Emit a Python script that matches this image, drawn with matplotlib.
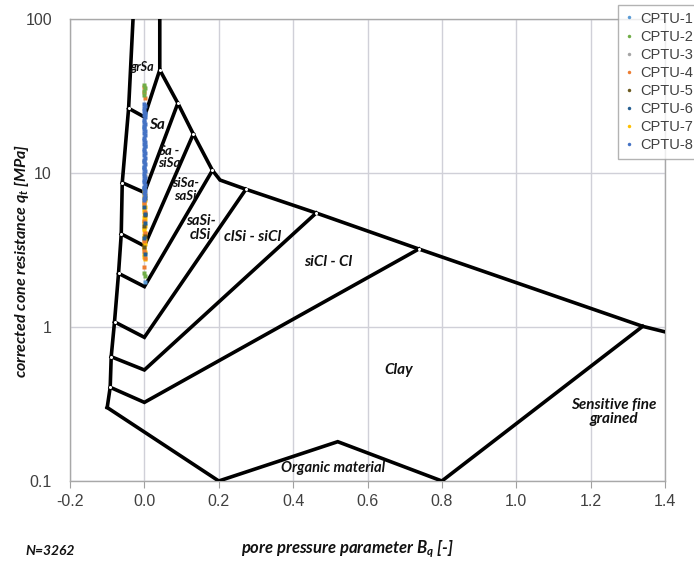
import matplotlib
matplotlib.use("Agg")
import matplotlib.pyplot as plt
from matplotlib.ticker import FixedLocator, NullLocator

plt.rcParams["mathtext.fontset"] = "custom"
plt.rcParams["mathtext.it"] = "Lato:italic:bold"
plt.rcParams["mathtext.rm"] = "Lato:italic:bold"

# --- Zone boundaries (Bq [-], qt [MPa]) ---
left_bq = [-0.0305, -0.0424, -0.0595, -0.0622, -0.0695, -0.0803, -0.0892, -0.0919, -0.1]
left_qt = [100, 26.3, 8.65, 4.02, 2.23, 1.08, 0.641, 0.406, 0.30]

top_bq = [0.0414, 0.0414, 0.09, 0.1316, 0.183, 0.2035, 0.273, 0.462, 0.738, 1.34, 1.4]
top_qt = [100, 46.7, 28.4, 17.9, 10.4, 9.0, 7.84, 5.50, 3.21, 1.01, 0.93]

bottom_bq = [-0.1, 0.2, 0.52, 0.8, 1.34]
bottom_qt = [0.30, 0.1, 0.18, 0.1, 1.01]

# each fan: left edge point -> apex at Bq = 0 -> upper boundary point
fan_left_qt = [26.3, 8.65, 4.02, 2.23, 1.08, 0.641, 0.406]
fan_left_bq = [-0.0424, -0.0595, -0.0622, -0.0695, -0.0803, -0.0892, -0.0919]
fan_apex_qt = [23.1, 7.47, 3.36, 1.83, 0.857, 0.526, 0.324]
fan_end_bq = [0.0414, 0.09, 0.1316, 0.183, 0.273, 0.462, 0.738]
fan_end_qt = [46.7, 28.4, 17.9, 10.4, 7.84, 5.50, 3.21]

# --- Zone names ---
zone_names = ["grSa", "Sa", "Sa -\nsiSa", "siSa-\nsaSi", "saSi-\nclSi", "clSi - siCl",
              "siCl - Cl", "Clay", "Sensitive fine\ngrained", "Organic material"]
zone_bq = [-0.0065, 0.034, 0.066, 0.111, 0.151, 0.291, 0.494, 0.684, 1.262, 0.508]
zone_qt = [49, 20.5, 12.7, 7.8, 4.4, 3.86, 2.65, 0.526, 0.281, 0.121]
zone_size = [9, 11, 9.5, 9.5, 10.5, 11, 11, 11, 11, 10.5]

# --- CPTU soundings ---
series_names = ["CPTU-1", "CPTU-2", "CPTU-3", "CPTU-4", "CPTU-5", "CPTU-6", "CPTU-7", "CPTU-8"]
series_colors = ["#5B9BD5", "#70AD47", "#A5A5A5", "#ED7D31", "#6B5A1E", "#255E91", "#FFC000", "#4472C4"]

cptu1_bq = [0.001, -0.002, 0.002, 0.000, -0.001, 0.003]
cptu1_qt = [24.0, 20.0, 15.0, 11.0, 8.0, 1.95]
cptu2_bq = [0.000, 0.001, -0.001, 0.000, 0.000, 0.001]
cptu2_qt = [37.5, 35.5, 34.0, 32.0, 2.25, 2.15]
cptu3_bq = [0.001, -0.001]
cptu3_qt = [9.5, 12.0]
cptu4_bq = [0.000, -0.001, 0.001, -0.002, 0.001, -0.001, 0.002, 0.000, -0.002, 0.001, 0.000]
cptu4_qt = [36.0, 33.5, 30.5, 6.4, 5.6, 4.9, 4.1, 3.6, 3.1, 2.8, 2.45]
cptu5_bq = [0.001, -0.001, 0.002, 0.000]
cptu5_qt = [5.3, 4.5, 3.9, 3.3]
cptu6_bq = [0.002, -0.001, 0.001, 0.002, -0.002, 0.002]
cptu6_qt = [6.9, 6.0, 5.4, 4.7, 3.8, 3.0]
cptu7_bq = [0.000, -0.002, 0.001, -0.001, 0.002, 0.000, -0.002, 0.001, -0.001, 0.000,
            0.002, -0.002, 0.001, 0.000, -0.001, 0.002, 0.000, -0.002, 0.001, -0.001,
            0.000, 0.002, -0.001, 0.001, 0.000, -0.001, 0.001, -0.001, 0.000, 0.002]
cptu7_qt = [7.7, 7.45, 7.2, 6.95, 6.7, 6.45, 6.2, 6.0, 5.8, 5.6,
            5.4, 5.2, 5.0, 4.85, 4.7, 4.55, 4.4, 4.25, 4.1, 3.95,
            3.8, 3.68, 3.56, 3.44, 3.32, 3.2, 3.08, 2.97, 2.86, 2.75]
cptu8_bq = [0.000, 0.001, -0.001, 0.000, 0.002, -0.001, 0.001, 0.000, -0.002, 0.001,
            0.000, -0.001, 0.002, 0.000, 0.001, -0.001, 0.000, 0.002, -0.002, 0.001,
            0.000, -0.001, 0.001, 0.000, 0.002, -0.001, 0.000, 0.001, -0.002, 0.000,
            0.001, -0.001, 0.000, 0.002, 0.000, -0.001, 0.001, 0.000, -0.001, 0.001,
            0.000, 0.002, -0.001, 0.000]
cptu8_qt = [28.2, 27.2, 26.3, 25.4, 24.6, 23.8, 23.0, 22.2, 21.5, 20.8,
            20.1, 19.4, 18.8, 18.2, 17.6, 17.0, 16.4, 15.9, 15.4, 14.9,
            14.4, 13.9, 13.4, 13.0, 12.6, 12.2, 11.8, 11.4, 11.0, 10.65,
            10.3, 9.95, 9.6, 9.3, 9.0, 8.7, 8.4, 8.15, 7.9, 7.65,
            7.4, 7.15, 6.9, 6.7]

series_bq = [cptu1_bq, cptu2_bq, cptu3_bq, cptu4_bq, cptu5_bq, cptu6_bq, cptu7_bq, cptu8_bq]
series_qt = [cptu1_qt, cptu2_qt, cptu3_qt, cptu4_qt, cptu5_qt, cptu6_qt, cptu7_qt, cptu8_qt]
draw_order = [6, 3, 4, 5, 2, 0, 7, 1]

x_ticks = [-0.2, 0.0, 0.2, 0.4, 0.6, 0.8, 1.0, 1.2, 1.4]
y_ticks = [0.1, 1, 10, 100]
y_tick_labels = ["0.1", "1", "10", "100"]
sample_count = 3262

# --- Figure ---
W, H = 694, 564
fig = plt.figure(figsize=(W / 100, H / 100), dpi=100)
ax = fig.add_axes([70 / W, 83 / H, 595 / W, 462 / H])
ax.set_yscale("log")
ax.set_xlim(-0.2, 1.4)
ax.set_ylim(0.1, 100)

ax.xaxis.set_major_locator(FixedLocator(x_ticks))
ax.set_xticklabels([f"{t:.1f}" for t in x_ticks])
ax.yaxis.set_major_locator(FixedLocator(y_ticks))
ax.yaxis.set_minor_locator(NullLocator())
ax.set_yticklabels(y_tick_labels)
ax.tick_params(axis="x", length=5, color="#A0A0A0", labelsize=11.5, labelcolor="#404040", pad=4)
ax.tick_params(axis="y", length=0, labelsize=11.5, labelcolor="#404040", pad=13)
for lbl in ax.get_xticklabels() + ax.get_yticklabels():
    lbl.set_family("Liberation Sans")

ax.grid(True, which="major", color="#D0D0D8", lw=1.0)
ax.set_axisbelow(True)
for s in ax.spines.values():
    s.set_color("#A8A8A8")
    s.set_linewidth(1.0)

lw = 2.6
ax.plot(left_bq, left_qt, color="black", lw=lw, solid_joinstyle="miter", zorder=3)
ax.plot(top_bq, top_qt, color="black", lw=lw, solid_joinstyle="miter", zorder=3)
ax.plot(bottom_bq, bottom_qt, color="black", lw=lw, solid_joinstyle="miter", zorder=3)
for i in range(len(fan_apex_qt)):
    ax.plot([fan_left_bq[i], 0.0, fan_end_bq[i]],
            [fan_left_qt[i], fan_apex_qt[i], fan_end_qt[i]],
            color="black", lw=lw, solid_joinstyle="miter", zorder=3)

# small white markers on the corner points
ax.plot(fan_left_bq, fan_left_qt, ls="none", marker="o", ms=2.2, mfc="white", mec="none", zorder=4)
ax.plot(fan_end_bq, fan_end_qt, ls="none", marker="o", ms=2.2, mfc="white", mec="none", zorder=4)

# soundings
for i in draw_order:
    ax.plot(series_bq[i], series_qt[i], ls="none", marker="s", ms=3.0,
            color=series_colors[i], mec="none", zorder=5)

zone_font = dict(family="Lato", style="italic", weight="bold", color="#111111")
for name, bx, qy, fs in zip(zone_names, zone_bq, zone_qt, zone_size):
    ax.text(bx, qy, name, ha="center", va="center", fontsize=fs,
            linespacing=1.05, zorder=6, **zone_font)

# legend (hangs over the right edge)
handles = [plt.Line2D([], [], ls="none", marker="o", ms=2.5, color=c, mec="none")
           for c in series_colors]
leg = fig.legend(handles, series_names, loc="upper left",
                 bbox_to_anchor=(618 / W, 1 - 5 / H), frameon=True, fancybox=False,
                 borderaxespad=0, handlelength=0.6, handletextpad=0.5,
                 labelspacing=0.28, borderpad=0.45,
                 prop=dict(family="Liberation Sans", size=10.5))
leg.get_frame().set_edgecolor("#A0A0A0")
leg.get_frame().set_linewidth(1.0)
for t in leg.get_texts():
    t.set_color("#404040")

fig.text(22 / W, 1 - 261 / H, r"corrected cone resistance $q_t$ [MPa]", rotation=90,
         ha="center", va="center", fontsize=11.5, **zone_font)
fig.text(348 / W, 1 - 549 / H, r"pore pressure parameter $B_q$ [-]",
         ha="center", va="center", fontsize=12, **zone_font)
fig.text(50 / W, 1 - 551 / H, f"N={sample_count}", ha="center", va="center",
         fontsize=10, **zone_font)

fig.savefig("out.png", dpi=100)
